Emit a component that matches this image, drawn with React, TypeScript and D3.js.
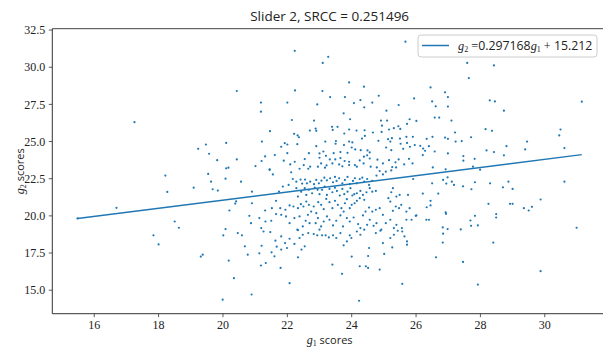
import React from 'react';
import * as d3 from 'd3';

// scatter points [g1, g2], grouped by region
const upperPoints: [number, number][] = [
  [17.25, 26.3], [20.1, 24.91], [19.47, 24.8], [19.23, 24.51], [19.57, 24.18], [19.82, 23.75],
  [20.1, 23.2], [20.17, 23.24], [20.43, 28.4], [25.67, 31.72], [22.23, 31.1], [23.27, 30.7],
  [23.1, 30.29], [22.24, 28.44], [23.92, 28.98], [24.38, 28.69], [23.09, 28.4], [24.84, 28.08],
  [23.33, 27.99], [23.79, 27.99], [24.27, 27.79], [24.07, 27.59], [24.64, 27.62], [21.18, 27.62],
  [22.0, 27.62], [22.93, 27.5], [24.39, 27.3], [25.94, 27.9], [25.46, 27.46], [21.18, 27.01],
  [23.75, 26.9], [25.08, 27.08], [22.14, 26.45], [22.83, 26.41], [23.95, 26.5], [24.91, 26.41],
  [25.1, 26.41], [25.8, 26.5], [25.72, 26.19], [24.94, 26.07], [21.46, 25.7], [22.88, 25.87],
  [22.9, 25.72], [22.7, 25.74], [23.39, 25.99], [23.56, 25.99], [25.31, 25.9], [25.16, 25.81],
  [25.51, 25.85], [25.45, 26.03], [23.92, 25.81], [24.15, 25.74], [24.4, 25.76], [24.66, 25.61],
  [24.93, 25.65], [23.41, 25.78], [22.21, 25.52], [22.32, 25.41], [22.36, 25.29], [23.77, 25.54],
  [24.41, 25.38], [24.32, 25.2], [25.13, 25.16], [25.25, 25.23], [25.5, 25.2], [25.7, 25.32],
  [25.9, 25.32], [21.21, 25.0], [21.92, 24.89], [22.0, 24.8], [22.31, 24.82], [23.18, 25.0],
  [23.51, 25.03], [23.92, 25.0], [24.02, 24.94], [24.83, 25.05], [25.2, 25.0], [25.52, 24.85],
  [25.72, 24.91], [21.81, 24.65], [22.9, 24.69], [23.5, 24.85], [23.76, 24.76], [24.0, 24.6],
  [24.11, 24.47], [24.28, 24.42], [24.49, 24.4], [24.56, 24.27], [25.07, 24.6], [25.23, 24.42],
  [25.6, 24.51], [25.81, 24.65], [25.96, 24.76], [22.67, 24.22], [23.12, 24.33], [23.0, 24.2],
  [23.44, 24.22], [23.65, 24.29], [23.87, 24.24], [21.61, 24.09], [22.0, 24.22], [21.31, 24.0],
  [20.43, 23.8], [21.2, 23.69], [21.01, 23.35], [21.89, 23.71], [22.09, 23.46], [22.23, 23.64],
  [22.54, 23.82], [22.51, 23.42], [23.0, 23.91], [23.2, 24.04], [23.05, 23.53], [23.32, 23.8],
  [23.49, 23.8], [23.65, 23.89], [23.4, 23.53], [23.61, 23.46], [23.78, 23.69], [23.92, 23.64],
  [24.1, 23.42], [24.25, 23.73], [24.38, 23.98], [24.48, 24.07], [24.56, 23.86], [24.37, 23.53],
  [24.59, 23.31], [24.8, 23.78], [24.97, 23.53], [25.16, 23.75], [25.36, 23.6], [25.46, 23.8],
  [25.63, 23.46], [25.78, 23.84], [25.89, 23.53], [22.71, 23.31], [22.95, 23.31], [23.22, 23.4],
  [21.45, 23.13], [22.38, 23.17], [22.65, 23.17], [23.17, 23.24], [23.71, 23.33], [23.92, 23.42],
  [24.16, 23.31], [24.78, 23.26], [25.26, 23.28], [25.38, 23.26],
];

const rightPoints: [number, number][] = [
  [27.59, 30.29], [28.42, 30.12], [27.64, 29.27], [26.45, 28.64], [26.9, 28.31], [26.99, 27.99],
  [26.5, 27.7], [26.61, 27.37], [26.99, 27.35], [28.29, 27.77], [28.45, 27.7], [31.15, 27.68],
  [28.73, 27.08], [26.58, 26.61], [26.72, 26.61], [27.1, 26.41], [26.01, 26.39], [28.16, 25.83],
  [28.36, 25.72], [30.49, 25.81], [30.45, 25.41], [27.21, 25.61], [26.51, 25.32], [26.33, 25.18],
  [26.9, 25.27], [26.99, 25.18], [27.23, 25.0], [27.42, 25.03], [27.71, 25.29], [29.45, 25.0],
  [26.13, 24.71], [26.4, 24.69], [26.22, 24.53], [26.28, 24.38], [26.21, 24.09], [26.58, 24.33],
  [26.99, 24.2], [28.19, 24.4], [28.42, 24.29], [28.81, 24.69], [29.39, 24.47], [30.61, 24.56],
  [27.47, 24.02], [27.82, 23.84], [28.73, 24.07], [27.47, 23.71], [27.77, 23.31], [26.52, 23.26],
  [26.92, 23.13], [27.99, 23.11], [26.5, 22.19], [26.84, 22.42], [26.98, 22.59], [26.94, 22.17],
  [27.11, 22.3], [27.18, 22.08], [27.46, 21.99], [27.72, 21.79], [27.83, 22.26], [28.3, 22.19],
  [28.7, 21.92], [28.87, 22.3], [29.0, 21.81], [30.61, 22.3], [26.21, 21.5], [26.69, 21.5],
  [26.45, 21.01], [26.33, 20.58], [26.45, 20.7], [26.01, 20.03], [26.92, 20.23], [26.93, 20.14],
  [26.32, 19.74], [26.4, 19.74], [28.25, 20.81], [28.92, 20.81], [29.0, 20.81], [29.87, 21.1],
  [29.35, 20.52], [29.5, 20.36], [29.6, 20.61], [28.49, 20.12], [28.49, 19.89], [27.83, 20.0],
  [27.69, 19.69], [27.71, 19.33], [27.92, 19.36], [27.39, 19.09], [26.83, 19.22], [26.98, 19.11],
  [26.84, 18.8], [26.83, 18.2], [28.4, 18.2], [30.99, 19.2], [26.62, 17.21], [27.46, 16.9],
  [29.87, 16.28], [27.92, 15.38],
];

const leftPoints: [number, number][] = [
  [15.48, 19.83], [16.69, 20.54], [18.21, 22.71], [18.27, 21.61], [19.09, 21.9], [19.54, 22.82],
  [19.63, 22.3], [19.68, 21.79], [19.84, 21.7], [20.08, 22.5], [20.38, 20.83], [20.2, 20.36],
  [18.5, 19.62], [18.63, 19.2], [17.84, 18.69], [18.0, 18.08], [20.08, 19.11], [20.01, 18.69],
  [19.31, 17.26], [19.37, 17.39], [20.18, 16.99], [20.34, 15.81], [19.99, 14.36],
];

const corePoints: [number, number][] = [
  [20.56, 22.3], [21.45, 23.09], [21.55, 22.79], [22.12, 22.93], [22.17, 22.48], [22.28, 22.3],
  [22.41, 22.44], [22.46, 22.17], [22.55, 22.44], [22.61, 22.19], [22.71, 22.3], [22.83, 22.13],
  [22.9, 22.42], [22.98, 22.19], [23.06, 22.37], [23.15, 22.57], [23.23, 22.39], [23.33, 22.53],
  [23.42, 22.26], [23.48, 22.62], [23.53, 22.35], [23.61, 22.53], [23.71, 22.19], [23.79, 22.42],
  [23.87, 22.62], [23.94, 22.13], [24.04, 22.35], [24.1, 22.53], [24.16, 22.19], [24.25, 22.48],
  [24.33, 22.57], [24.39, 22.3], [24.48, 22.48], [24.54, 22.08], [24.64, 22.35], [24.77, 22.71],
  [24.87, 23.02], [24.97, 22.79], [25.06, 22.97], [25.23, 23.06], [25.91, 22.48],
  [20.9, 21.63], [21.74, 21.63], [21.86, 21.97], [22.04, 22.08], [22.28, 21.86], [22.33, 21.3],
  [22.43, 21.63], [22.54, 21.86], [22.59, 21.41], [22.67, 21.75], [22.77, 21.52], [22.85, 21.9],
  [22.94, 21.75], [23.0, 21.46], [23.08, 21.75], [23.16, 21.97], [23.23, 21.41], [23.31, 21.81],
  [23.4, 21.59], [23.48, 21.9], [23.54, 21.68], [23.63, 21.37], [23.71, 21.81], [23.77, 21.46],
  [23.87, 21.63], [23.96, 21.86], [24.02, 21.37], [24.08, 21.46], [24.16, 21.52], [24.27, 21.68],
  [24.35, 21.41], [24.46, 21.59], [24.56, 21.86], [24.64, 21.63], [24.75, 21.68], [25.23, 21.59],
  [25.28, 21.86], [25.39, 21.3], [25.49, 21.41], [25.75, 21.41],
  [20.41, 20.98], [20.9, 20.85], [21.31, 20.36], [21.52, 20.52], [21.65, 21.01], [21.78, 20.52],
  [21.94, 20.41], [22.07, 20.7], [22.19, 20.63], [22.33, 20.52], [22.42, 20.79], [22.5, 20.63],
  [22.59, 20.96], [22.67, 20.74], [22.74, 20.29], [22.82, 20.63], [22.9, 20.18], [22.96, 20.92],
  [23.05, 20.74], [23.13, 20.45], [23.21, 21.14], [23.31, 20.92], [23.4, 20.52], [23.48, 21.01],
  [23.57, 20.74], [23.68, 20.52], [23.75, 20.29], [23.79, 20.85], [23.85, 21.12], [23.94, 20.52],
  [24.0, 20.74], [24.09, 20.85], [24.16, 21.01], [24.25, 21.19], [24.39, 21.08], [24.43, 20.29],
  [24.54, 20.56], [24.64, 20.29], [24.75, 20.41], [24.87, 20.52], [24.97, 20.07], [25.14, 21.19],
  [25.2, 20.96], [25.28, 20.34], [25.37, 20.63], [25.47, 20.52], [25.54, 20.74], [25.7, 20.29],
  [25.8, 20.52], [25.99, 20.0],
];

const lowerPoints: [number, number][] = [
  [20.82, 20.0], [20.87, 19.51], [21.13, 19.85], [21.19, 19.18], [21.26, 18.95], [21.32, 19.62],
  [21.5, 19.67], [21.65, 20.12], [21.81, 20.07], [21.96, 19.96], [22.07, 19.51], [22.22, 19.85],
  [22.31, 19.07], [22.38, 19.96], [22.48, 19.29], [22.57, 19.67], [22.64, 20.07], [22.69, 19.51],
  [22.88, 19.51], [22.95, 19.85], [23.05, 19.29], [23.13, 19.62], [23.23, 19.96], [23.31, 19.74],
  [23.42, 19.36], [23.52, 19.67], [23.65, 20.03], [23.73, 19.29], [23.85, 19.85], [23.94, 19.62],
  [24.06, 19.89], [24.2, 19.45], [24.27, 19.18], [24.35, 20.03], [24.48, 19.4], [24.56, 19.74],
  [24.68, 19.33], [24.77, 19.51], [24.92, 19.07], [25.06, 19.51], [25.2, 19.74], [25.31, 19.18],
  [25.39, 19.4], [25.56, 19.18], [25.7, 19.74], [25.86, 19.74],
  [20.46, 18.84], [20.59, 18.69], [20.68, 17.95], [21.2, 17.99], [21.47, 18.91], [21.63, 18.33],
  [21.67, 17.93], [21.81, 18.62], [21.93, 18.17], [22.07, 18.46], [22.22, 18.11], [22.33, 19.04],
  [22.38, 18.51], [22.48, 18.73], [22.54, 17.95], [22.65, 18.84], [22.82, 18.78], [22.93, 18.69],
  [23.0, 19.07], [23.08, 18.69], [23.19, 18.69], [23.29, 18.55], [23.42, 18.69], [23.52, 18.51],
  [23.65, 18.84], [23.75, 18.02], [23.85, 18.28], [23.94, 18.69], [23.99, 18.51], [24.16, 18.95],
  [24.27, 18.73], [24.39, 19.07], [24.54, 17.84], [24.75, 18.84], [24.89, 19.0], [24.97, 18.17],
  [25.2, 18.51], [25.31, 18.73], [25.43, 19.0], [25.57, 18.95], [25.64, 18.62], [25.72, 18.28],
  [25.72, 18.06],
  [20.77, 17.39], [21.13, 17.48], [21.18, 16.66], [21.33, 16.83], [21.51, 17.55], [21.6, 17.28],
  [21.79, 16.5], [21.81, 17.73], [21.99, 17.84], [22.33, 17.21], [22.44, 17.73], [23.4, 16.72],
  [23.7, 16.1], [24.0, 17.26], [24.25, 16.61], [24.44, 16.61], [24.51, 16.5], [24.51, 17.3],
  [24.87, 16.39], [25.01, 17.44], [25.26, 17.88], [22.07, 15.47], [25.57, 15.43], [20.89, 14.71],
  [24.23, 14.29],
];

// fitted line as it appears in the plot (end points)
const fitLine: [number, number][] = [[15.48, 19.82], [31.15, 24.12]];

const xTicks = [16, 18, 20, 22, 24, 26, 28, 30];
const yTicks = [15.0, 17.5, 20.0, 22.5, 25.0, 27.5, 30.0, 32.5];

const slope = 0.297168;
const intercept = 15.212;
const srcc = '0.251496';

const points = [...upperPoints, ...rightPoints, ...leftPoints, ...corePoints, ...lowerPoints];

const W = 603;
const H = 348;
const margin = { left: 52.3, top: 28.7, bottom: 34.3 };
const plotRight = 607;

const blue = '#1f77b4';
const serif = '"Liberation Serif", "DejaVu Serif", serif';
const sans = '"Open Sans", "DejaVu Sans", sans-serif';

function padded(ext: [number, number]): [number, number] {
  const d = (ext[1] - ext[0]) * 0.05;
  return [ext[0] - d, ext[1] + d];
}

export default function App() {
  const xExt = d3.extent(points, (d) => d[0]) as [number, number];
  const yExt = d3.extent(points, (d) => d[1]) as [number, number];

  const x = d3.scaleLinear().domain(padded(xExt)).range([margin.left, plotRight]);
  const y = d3.scaleLinear().domain(padded(yExt)).range([H - margin.bottom, margin.top]);

  const fit = d3
    .line<[number, number]>()
    .x((d) => x(d[0]))
    .y((d) => y(d[1]));

  const bottom = H - margin.bottom;
  const fmt = d3.format('.1f');

  return (
    <div style={{ position: 'fixed', left: 0, top: 0 }}>
      <svg width={W} height={H} style={{ display: 'block', background: '#fff' }}>
        <defs>
          <clipPath id="ylab-clip">
            <rect x={17} y={0} width={40} height={H} />
          </clipPath>
        </defs>
        {/* title */}
        <text x={(margin.left + plotRight) / 2} y={21} textAnchor="middle" fontFamily={sans} fontSize={13.5} fill="#222">
          Slider 2, SRCC = {srcc}
        </text>

        {/* scatter */}
        <g fill={blue}>
          {points.map((d, i) => (
            <circle key={i} cx={x(d[0])} cy={y(d[1])} r={1.1} />
          ))}
        </g>

        {/* regression line */}
        <path d={fit(fitLine) ?? ''} fill="none" stroke={blue} strokeWidth={1.5} />

        {/* spines */}
        <line x1={margin.left} x2={plotRight} y1={margin.top} y2={margin.top} stroke="#444" strokeWidth={1} />
        <line x1={margin.left} x2={plotRight} y1={bottom} y2={bottom} stroke="#333" strokeWidth={1} />
        <line x1={margin.left} x2={margin.left} y1={margin.top} y2={bottom} stroke="#333" strokeWidth={1} />

        {/* x axis */}
        {xTicks.map((t) => (
          <g key={t} transform={`translate(${x(t)},${bottom})`}>
            <line y2={3.5} stroke="#333" strokeWidth={0.8} />
            <text y={15.5} textAnchor="middle" fontFamily={serif} fontSize={12} fill="#222">
              {t}
            </text>
          </g>
        ))}
        <text x={(margin.left + plotRight) / 2} y={344} textAnchor="middle" fontSize={11} fill="#222">
          <tspan fontFamily={serif} fontStyle="italic" fontSize={12}>g</tspan>
          <tspan fontFamily={serif} fontSize={8} dy={2}>1</tspan>
          <tspan fontFamily={sans} dy={-2}> scores</tspan>
        </text>

        {/* y axis */}
        {yTicks.map((t) => (
          <g key={t} transform={`translate(${margin.left},${y(t)})`}>
            <line x2={-3.5} stroke="#333" strokeWidth={0.8} />
            <text x={-7} dy="0.35em" textAnchor="end" fontFamily={serif} fontSize={12} fill="#222">
              {fmt(t)}
            </text>
          </g>
        ))}
        <g clipPath="url(#ylab-clip)">
          <text
            transform={`translate(24,${(margin.top + bottom) / 2}) rotate(-90)`}
            textAnchor="middle"
            fontSize={11}
            fill="#222"
          >
            <tspan fontFamily={serif} fontStyle="italic" fontSize={12}>g</tspan>
            <tspan fontFamily={serif} fontSize={8} dy={2}>2</tspan>
            <tspan fontFamily={sans} dy={-2}> scores</tspan>
          </text>
        </g>

        {/* legend */}
        <g>
          <rect x={418} y={35} width={179} height={22} rx={3} fill="#fff" fillOpacity={0.85} stroke="#ccc" strokeWidth={1} />
          <line x1={422} x2={449} y1={45.5} y2={45.5} stroke={blue} strokeWidth={1.5} />
          <text x={458} y={50} fontSize={12.3} fill="#222">
            <tspan fontFamily={serif} fontStyle="italic">g</tspan>
            <tspan fontFamily={serif} fontSize={8} dy={2}>2</tspan>
            <tspan fontFamily={serif} dy={-2}> =</tspan>
            <tspan fontFamily={sans}>{slope}</tspan>
            <tspan fontFamily={serif} fontStyle="italic">g</tspan>
            <tspan fontFamily={serif} fontSize={8} dy={2}>1</tspan>
            <tspan fontFamily={serif} dy={-2}> + </tspan>
            <tspan fontFamily={sans}>{intercept}</tspan>
          </text>
        </g>
      </svg>
    </div>
  );
}
